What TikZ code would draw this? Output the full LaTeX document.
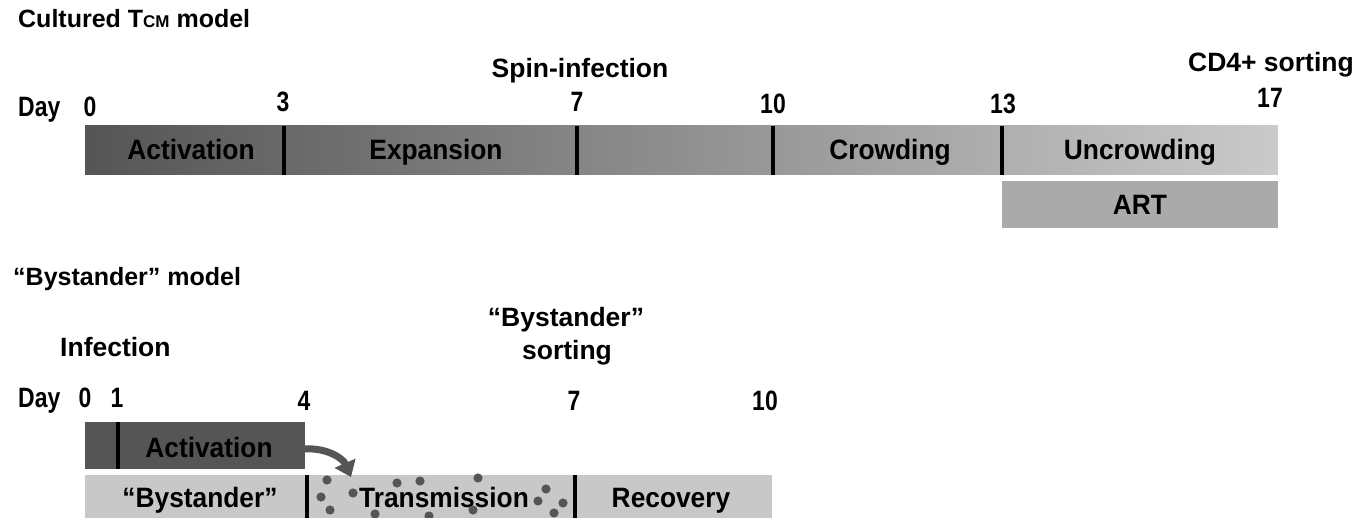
\documentclass[tikz,border=0pt]{standalone}
\usepackage{fontspec}
\setmainfont{Liberation Sans}
\newfontfamily\cond{Liberation Sans Bold}[FakeStretch=0.94]
\newfontfamily\dayf{Liberation Sans Bold}[FakeStretch=0.82]
\usetikzlibrary{arrows.meta}
\definecolor{dark}{HTML}{555555}
\definecolor{light}{HTML}{CACACA}
\definecolor{barlight}{HTML}{C8C8C8}
\definecolor{artgray}{HTML}{AAAAAA}
\tikzset{
  title/.style={font=\bfseries\fontsize{25}{27}\selectfont, inner sep=0pt},
  label/.style={font=\bfseries\fontsize{26.5}{28}\selectfont, inner sep=0pt, anchor=base},
  daylbl/.style={font=\dayf\fontsize{28}{30}\selectfont, inner sep=0pt, anchor=base},
  barlbl/.style={font=\cond\fontsize{28}{30}\selectfont, inner sep=0pt, anchor=base},
  divider/.style={line width=4pt, black},
}
\begin{document}
\begin{tikzpicture}[x=1pt,y=-1pt]
\useasboundingbox (0,0) rectangle (1371,518);
% ---------- Cultured TCM model ----------
\node[title, anchor=base west] (t1) at (18,28) {Cultured T{\fontsize{17}{18}\selectfont CM} model};
\node[label] (spin) at (580,78) {Spin-infection};
\node[label, anchor=base east] (cd4) at (1354,72) {CD4+ sorting};
\node[daylbl, anchor=base west] (day1) at (18,117) {Day};
\node[daylbl] (d0) at (90,117) {0};
\node[daylbl] (d3) at (283,112) {3};
\node[daylbl] (d7) at (577,112) {7};
\node[daylbl] (d10) at (773,114) {10};
\node[daylbl] (d13) at (1003,114) {13};
\node[daylbl] (d17) at (1270,108) {17};
\shade[left color=dark, right color=light] (85,126) rectangle (1278,175);
\draw[divider] (284,126) -- (284,175);
\draw[divider] (577,126) -- (577,175);
\draw[divider] (773,126) -- (773,175);
\draw[divider] (1002,126) -- (1002,175);
\node[barlbl] (act1) at (191,160) {Activation};
\node[barlbl] (exp) at (436,160) {Expansion};
\node[barlbl] (crowd) at (890,160) {Crowding};
\node[barlbl] (uncrowd) at (1140,160) {Uncrowding};
\fill[artgray] (1002,181) rectangle (1278,228);
\node[barlbl] (art) at (1140,215) {ART};
% ---------- Bystander model ----------
\node[title, anchor=base west] (t2) at (13,286) {“Bystander” model};
\node[label] (bs1) at (566,327) {“Bystander”};
\node[label] (bs2) at (567,360) {sorting};
\node[label, anchor=base west] (inf) at (60,357) {Infection};
\node[daylbl, anchor=base west] (day2) at (18,408) {Day};
\node[daylbl] (e0) at (85,408) {0};
\node[daylbl] (e1) at (117,408) {1};
\node[daylbl] (e4) at (304,410) {4};
\node[daylbl] (e7) at (574,410) {7};
\node[daylbl] (e10) at (765,410) {10};
\fill[dark] (85,422) rectangle (305,469);
\draw[divider] (118,422) -- (118,469);
\node[barlbl] (act2) at (209,457) {Activation};
\fill[barlight] (85,475) rectangle (772,518);
\draw[divider] (307,475) -- (307,518);
\draw[divider] (575,475) -- (575,518);
\node[barlbl] (bys) at (200,507) {“Bystander”};
\node[barlbl] (trans) at (444,507) {Transmission};
\node[barlbl] (rec) at (671,507) {Recovery};
\foreach \x/\y in {327/480,321/497,330/510,353/493,397/483,420/481,375/514,429/516,478/478,473/510,546/489,538/501,563/503,554/513}
  \fill[dark] (\x,\y) circle (4.6pt);
\coordinate (arS) at (305,449);
\coordinate (arE) at (351,477);
\draw[dark, line width=7pt, -{Triangle[length=15pt,width=22pt]}] (arS) to[bend left=35] (arE);
\end{tikzpicture}
\end{document}
